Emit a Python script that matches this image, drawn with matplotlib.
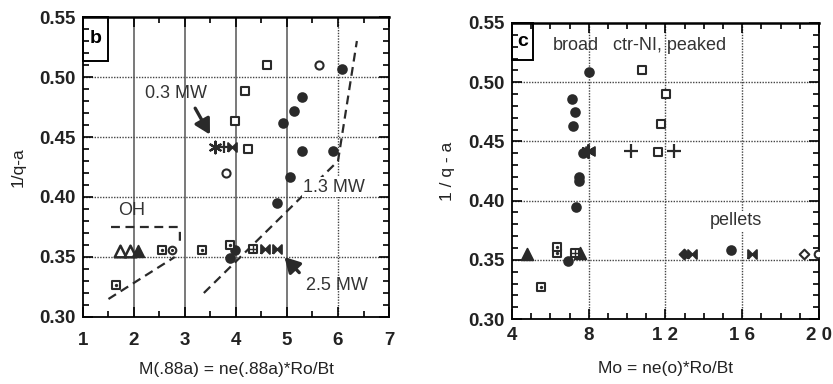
import matplotlib
matplotlib.use("Agg")
import matplotlib.pyplot as plt
from matplotlib.ticker import MultipleLocator, FixedLocator
from matplotlib.patches import Rectangle

plt.rcParams['font.family'] = ['Liberation Sans', 'DejaVu Sans']

# ---------------- panel b data ----------------
b_open_sq_x = [4.61, 4.18, 3.98, 4.23]
b_open_sq_y = [0.510, 0.488, 0.463, 0.440]
b_open_circ_x = [5.63, 3.80]
b_open_circ_y = [0.510, 0.420]
b_fill_circ_x = [6.07, 5.29, 5.14, 4.92, 5.29, 5.90, 5.06, 4.80, 3.88, 3.98]
b_fill_circ_y = [0.507, 0.483, 0.472, 0.462, 0.438, 0.438, 0.417, 0.395, 0.349, 0.356]
b_star_x = [3.58]
b_star_y = [0.442]
b_plus_x = [3.76]
b_plus_y = [0.442]
b_bow_x = [3.93, 4.57, 4.80]
b_bow_y = [0.442, 0.357, 0.357]
b_open_tri_x = [1.73, 1.92]
b_open_tri_y = [0.355, 0.355]
b_fill_tri_x = [2.08]
b_fill_tri_y = [0.355]
b_dot_sq_x = [1.65, 2.55, 3.33, 3.88]
b_dot_sq_y = [0.327, 0.356, 0.356, 0.360]
b_dot_circ_x = [2.75]
b_dot_circ_y = [0.356]
b_plus_sq_x = [4.33]
b_plus_sq_y = [0.357]
b_oh_x = [1.55, 2.86, 2.90, 2.90]
b_oh_y = [0.375, 0.375, 0.372, 0.360]
b_line1_x = [1.50, 2.80]
b_line1_y = [0.315, 0.350]
b_line2_x = [3.37, 6.00, 6.37]
b_line2_y = [0.320, 0.430, 0.530]

# ---------------- panel c data ----------------
c_fill_circ_x = [8.01, 7.13, 7.29, 7.20, 7.70, 7.50, 7.50, 7.34, 6.90, 15.40]
c_fill_circ_y = [0.509, 0.486, 0.475, 0.463, 0.440, 0.420, 0.417, 0.395, 0.349, 0.358]
c_open_sq_x = [10.77, 12.02, 11.77, 11.60]
c_open_sq_y = [0.510, 0.490, 0.465, 0.441]
c_plus_x = [10.20, 12.44]
c_plus_y = [0.442, 0.442]
c_star_x = [7.96]
c_star_y = [0.442]
c_bow_x = [8.05, 13.40, 16.50]
c_bow_y = [0.442, 0.355, 0.355]
c_fill_tri_x = [4.77, 7.53]
c_fill_tri_y = [0.355, 0.356]
c_dot_sq_x = [6.35, 6.35, 5.50]
c_dot_sq_y = [0.356, 0.361, 0.327]
c_plus_sq_x = [7.28]
c_plus_sq_y = [0.356]
c_fill_dia_x = [12.96]
c_fill_dia_y = [0.355]
c_open_dia_x = [19.20]
c_open_dia_y = [0.355]
c_open_circ_x = [19.95]
c_open_circ_y = [0.355]

INK = '#2a2a2a'
TXT = '#333333'
bowtie = [(-1, -1), (-1, 1), (0, 0), (1, 1), (1, -1), (0, 0), (-1, -1)]
star6 = (6, 2, 0)

fig = plt.figure(figsize=(8.33, 3.84), dpi=100)
axb = fig.add_axes([0.0996, 0.1745, 0.3674, 0.7812])
axc = fig.add_axes([0.6146, 0.1690, 0.3686, 0.7712])


def style(ax, xpad):
    ax.tick_params(which='both', direction='in', top=True, right=True,
                   labelsize=13.5, colors='black', width=1.2)
    ax.tick_params(which='major', length=7, pad=5)
    ax.tick_params(axis='x', which='major', pad=xpad)
    ax.tick_params(which='minor', length=4)
    for s in ax.spines.values():
        s.set_linewidth(1.3)
    ax.spines['top'].set_linewidth(1.8)
    ax.yaxis.set_major_locator(FixedLocator([0.30, 0.35, 0.40, 0.45, 0.50, 0.55]))
    ax.yaxis.set_minor_locator(MultipleLocator(0.01))
    ax.set_yticklabels(['0.30', '0.35', '0.40', '0.45', '0.50', '0.55'])
    for yv in [0.35, 0.40, 0.45, 0.50]:
        ax.axhline(yv, color='#444444', lw=1.0, ls=(0, (1, 1)), zorder=1)


def bold_ticks(ax):
    for lab in ax.get_xticklabels() + ax.get_yticklabels():
        lab.set_fontweight('bold')
        lab.set_color('#222222')


def sc(ax, x, y, marker, filled, size=36, lw=1.3):
    if filled:
        ax.scatter(x, y, marker=marker, s=size, color=INK, zorder=4, linewidths=lw)
    else:
        ax.scatter(x, y, marker=marker, s=size, facecolors='white', edgecolors=INK,
                   zorder=4, linewidths=lw)


# ---------------- panel b ----------------
ax = axb
ax.set_xlim(1, 7)
ax.set_ylim(0.30, 0.55)
style(ax, 11)
ax.xaxis.set_major_locator(MultipleLocator(1))
ax.xaxis.set_minor_locator(MultipleLocator(0.5))
for xv in [2, 3, 4, 5]:
    ax.axvline(xv, color='#555555', lw=1.1, zorder=1)
ax.axvline(6, color='#444444', lw=1.0, ls=(0, (1, 1)), zorder=1)

sc(ax, b_open_sq_x, b_open_sq_y, 's', False, 36, 1.5)
sc(ax, b_open_circ_x, b_open_circ_y, 'o', False, 34, 1.5)
sc(ax, b_fill_circ_x, b_fill_circ_y, 'o', True, 40)
ax.scatter(b_star_x, b_star_y, marker=star6, s=70, color=INK, lw=1.6, zorder=4)
ax.scatter(b_plus_x, b_plus_y, marker='+', s=80, color=INK, lw=1.6, zorder=4)
ax.scatter(b_bow_x, b_bow_y, marker=bowtie, s=40, color=INK, lw=1.4, zorder=4)
sc(ax, b_open_tri_x, b_open_tri_y, '^', False, 70, 1.8)
sc(ax, b_fill_tri_x, b_fill_tri_y, '^', True, 70)
sc(ax, b_dot_sq_x, b_dot_sq_y, 's', False, 34, 1.5)
ax.scatter(b_dot_sq_x, b_dot_sq_y, marker='.', s=8, color=INK, zorder=5)
sc(ax, b_dot_circ_x, b_dot_circ_y, 'o', False, 30, 1.5)
ax.scatter(b_dot_circ_x, b_dot_circ_y, marker='.', s=6, color=INK, zorder=5)
sc(ax, b_plus_sq_x, b_plus_sq_y, 's', False, 36, 1.5)
ax.scatter(b_plus_sq_x, b_plus_sq_y, marker='+', s=36, color=INK, lw=1, zorder=5)

ax.plot(b_oh_x, b_oh_y, color=INK, lw=1.6, ls=(0, (4, 2.5)), zorder=3)
ax.plot(b_line1_x, b_line1_y, color=INK, lw=1.6, ls=(0, (4, 2.5)), zorder=3)
ax.plot(b_line2_x, b_line2_y, color=INK, lw=1.6, ls=(0, (4, 2.5)), zorder=3)

ax.text(1.96, 0.389, 'OH', fontsize=13, ha='center', va='center', color=TXT)
ax.text(5.92, 0.408, '1.3 MW', fontsize=13, ha='center', va='center', color=TXT,
        zorder=6, bbox=dict(facecolor='white', edgecolor='none', pad=1))
ax.text(2.82, 0.486, '0.3 MW', fontsize=13, ha='center', va='center', color=TXT)
ax.text(5.98, 0.326, '2.5 MW', fontsize=13, ha='center', va='center', color=TXT)
ax.annotate('', xy=(3.49, 0.452), xytext=(3.20, 0.474),
            arrowprops=dict(arrowstyle='-|>,head_length=0.9,head_width=0.5',
                            color=INK, lw=2.4, shrinkA=0, shrinkB=0))
ax.annotate('', xy=(4.95, 0.350), xytext=(5.24, 0.337),
            arrowprops=dict(arrowstyle='-|>,head_length=0.9,head_width=0.5',
                            color=INK, lw=2.4, shrinkA=0, shrinkB=0))
ax.add_patch(Rectangle((1.0, 0.513), 0.5, 0.037, fill=False, edgecolor='black',
                       lw=1.4, zorder=5, clip_on=False))
ax.text(1.25, 0.532, 'b', fontsize=14, fontweight='bold', ha='center', va='center')
ax.set_xlabel('M(.88a) = ne(.88a)*Ro/Bt', fontsize=12.5, labelpad=9, color='#222222')
ax.set_ylabel('1/q-a', fontsize=12.5, labelpad=10, color='#222222')
bold_ticks(ax)

# ---------------- panel c ----------------
ax = axc
ax.set_xlim(4, 20)
ax.set_ylim(0.30, 0.55)
style(ax, 6)
ax.xaxis.set_major_locator(FixedLocator([4, 8, 12, 16, 20]))
ax.xaxis.set_minor_locator(MultipleLocator(1))
ax.set_xticklabels(['4', '8', '1 2', '1 6', '2 0'])
for xv in [8, 12, 16]:
    ax.axvline(xv, color='#444444', lw=1.0, ls=(0, (1, 1)), zorder=1)

sc(ax, c_fill_circ_x, c_fill_circ_y, 'o', True, 40)
sc(ax, c_open_sq_x, c_open_sq_y, 's', False, 36, 1.5)
ax.scatter(c_plus_x, c_plus_y, marker='+', s=110, color=INK, lw=1.6, zorder=4)
ax.scatter(c_star_x, c_star_y, marker=star6, s=80, color=INK, lw=1.8, zorder=4)
ax.scatter(c_bow_x, c_bow_y, marker=bowtie, s=40, color=INK, lw=1.4, zorder=4)
sc(ax, c_fill_tri_x, c_fill_tri_y, '^', True, 70)
sc(ax, c_dot_sq_x, c_dot_sq_y, 's', False, 34, 1.5)
ax.scatter(c_dot_sq_x, c_dot_sq_y, marker='.', s=8, color=INK, zorder=5)
sc(ax, c_plus_sq_x, c_plus_sq_y, 's', False, 36, 1.5)
ax.scatter(c_plus_sq_x, c_plus_sq_y, marker='+', s=36, color=INK, lw=1, zorder=5)
sc(ax, c_fill_dia_x, c_fill_dia_y, 'D', True, 26)
sc(ax, c_open_dia_x, c_open_dia_y, 'D', False, 24, 1.5)
ax.scatter(c_open_circ_x, c_open_circ_y, marker='o', s=30, facecolors='white',
           edgecolors=INK, lw=1.5, zorder=4, clip_on=True)

ax.text(7.33, 0.531, 'broad', fontsize=13, ha='center', va='center', color=TXT)
ax.text(12.2, 0.531, 'ctr-NI, peaked', fontsize=13, ha='center', va='center', color=TXT)
ax.text(15.67, 0.383, 'pellets', fontsize=13, ha='center', va='center', color=TXT,
        bbox=dict(facecolor='white', edgecolor='none', pad=1), zorder=6)
ax.add_patch(Rectangle((4.0, 0.519), 1.1, 0.031, fill=False, edgecolor='black',
                       lw=1.4, zorder=5, clip_on=False))
ax.text(4.55, 0.5345, 'c', fontsize=14, fontweight='bold', ha='center', va='center')
ax.set_xlabel('Mo = ne(o)*Ro/Bt', fontsize=12.5, labelpad=12, color='#222222')
ax.set_ylabel('1 / q - a', fontsize=12.5, labelpad=10, color='#222222')
bold_ticks(ax)

fig.savefig('out.png', dpi=100)
